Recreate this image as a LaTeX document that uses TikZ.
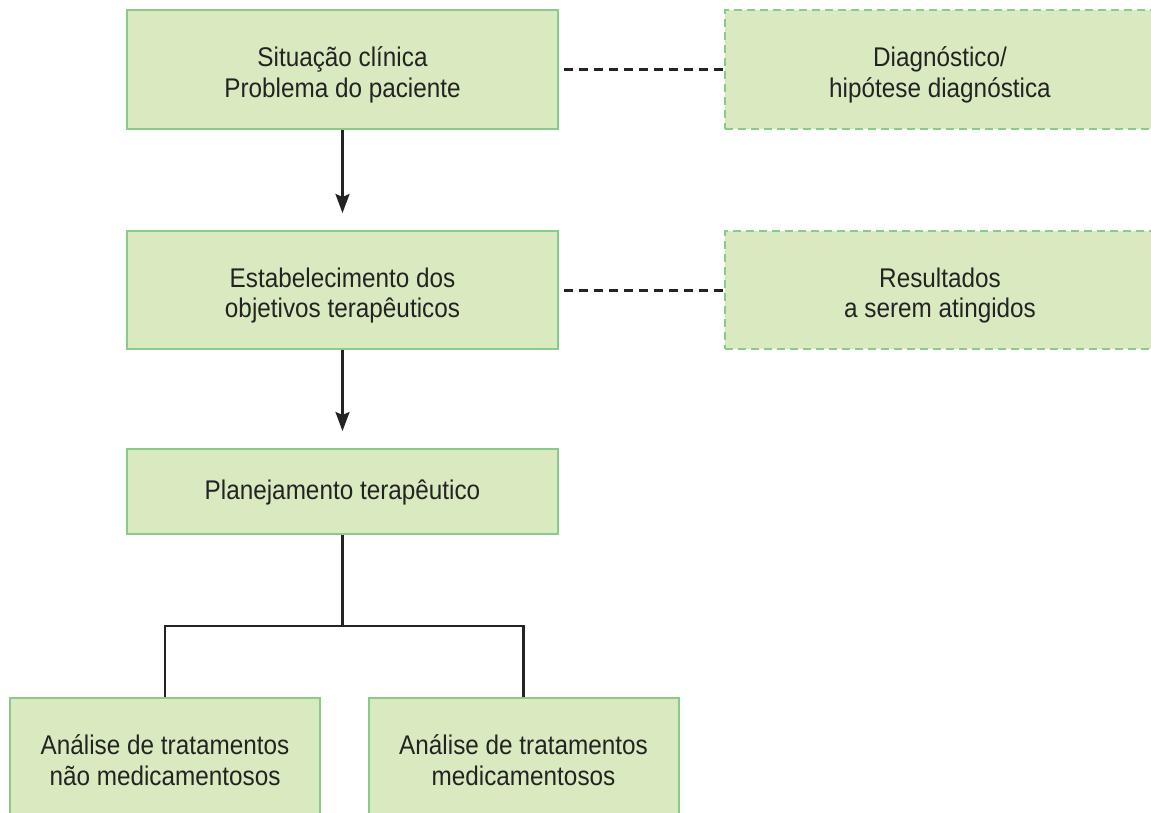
\documentclass[tikz,border=0pt]{standalone}
\usepackage{fontspec}
\setmainfont{Liberation Sans}[FakeStretch=0.9]
\usetikzlibrary{arrows.meta}
\definecolor{boxfill}{RGB}{218,234,192}
\definecolor{boxline}{RGB}{140,202,135}
\definecolor{ink}{RGB}{35,35,35}
\begin{document}
\begin{tikzpicture}[x=1pt,y=-1pt,
  box/.style={draw=boxline, fill=boxfill, line width=2pt, text=ink,
    align=center, font=\fontsize{27}{30.5}\selectfont, inner sep=0pt,
    text height=55.5pt, text depth=0pt,
    minimum width=431pt, minimum height=119pt},
  dashbox/.style={box, dash pattern=on 8pt off 5pt},
  flow/.style={draw=ink, line width=2.5pt,
    -{Stealth[length=19pt,width=14pt,inset=3pt]}, shorten >=17pt},
  link/.style={draw=ink, line width=3pt, dash pattern=on 9pt off 6pt},
  branch/.style={draw=ink, line width=2.5pt}
]
\useasboundingbox (0,0) rectangle (1151,813);
\fill[white] (0,0) rectangle (1151,813);
\clip (0,0) rectangle (1151,813);

% main column
\node[box] (sit) at (342.5,69.5) {Situação clínica\\Problema do paciente};
\node[box, minimum height=118pt] (obj) at (342.5,290) {Estabelecimento dos\\objetivos terapêuticos};
\node[box, minimum height=85pt, text height=20pt, text depth=5pt] (plan) at (342.5,491.5) {Planejamento terapêutico};

% side boxes
\node[dashbox, minimum width=430pt] (diag) at (940,69.5) {Diagnóstico/\\hipótese diagnóstica};
\node[dashbox, minimum width=430pt, minimum height=118pt] (res) at (940,290) {Resultados\\a serem atingidos};

% treatment boxes (running past the lower edge)
\node[box, minimum width=310pt, minimum height=122pt, text height=52.5pt] (nmed) at (165,759) {Análise de tratamentos\\não medicamentosos};
\node[box, minimum width=310pt, minimum height=122pt, text height=52.5pt] (med) at (523.5,759) {Análise de tratamentos\\medicamentosos};

% connectors
\draw[flow] (sit.south) -- (obj.north);
\draw[flow] (obj.south) -- (plan.north);
\draw[link, shorten <=5pt] (sit.east) -- (diag.west);
\draw[link, shorten <=5pt] (obj.east) -- (res.west);

\coordinate (split) at (342.5,626);
\draw[branch] (plan.south) -- (split);
\draw[branch] (nmed.north) |- (split) -| (med.north);
\end{tikzpicture}
\end{document}
